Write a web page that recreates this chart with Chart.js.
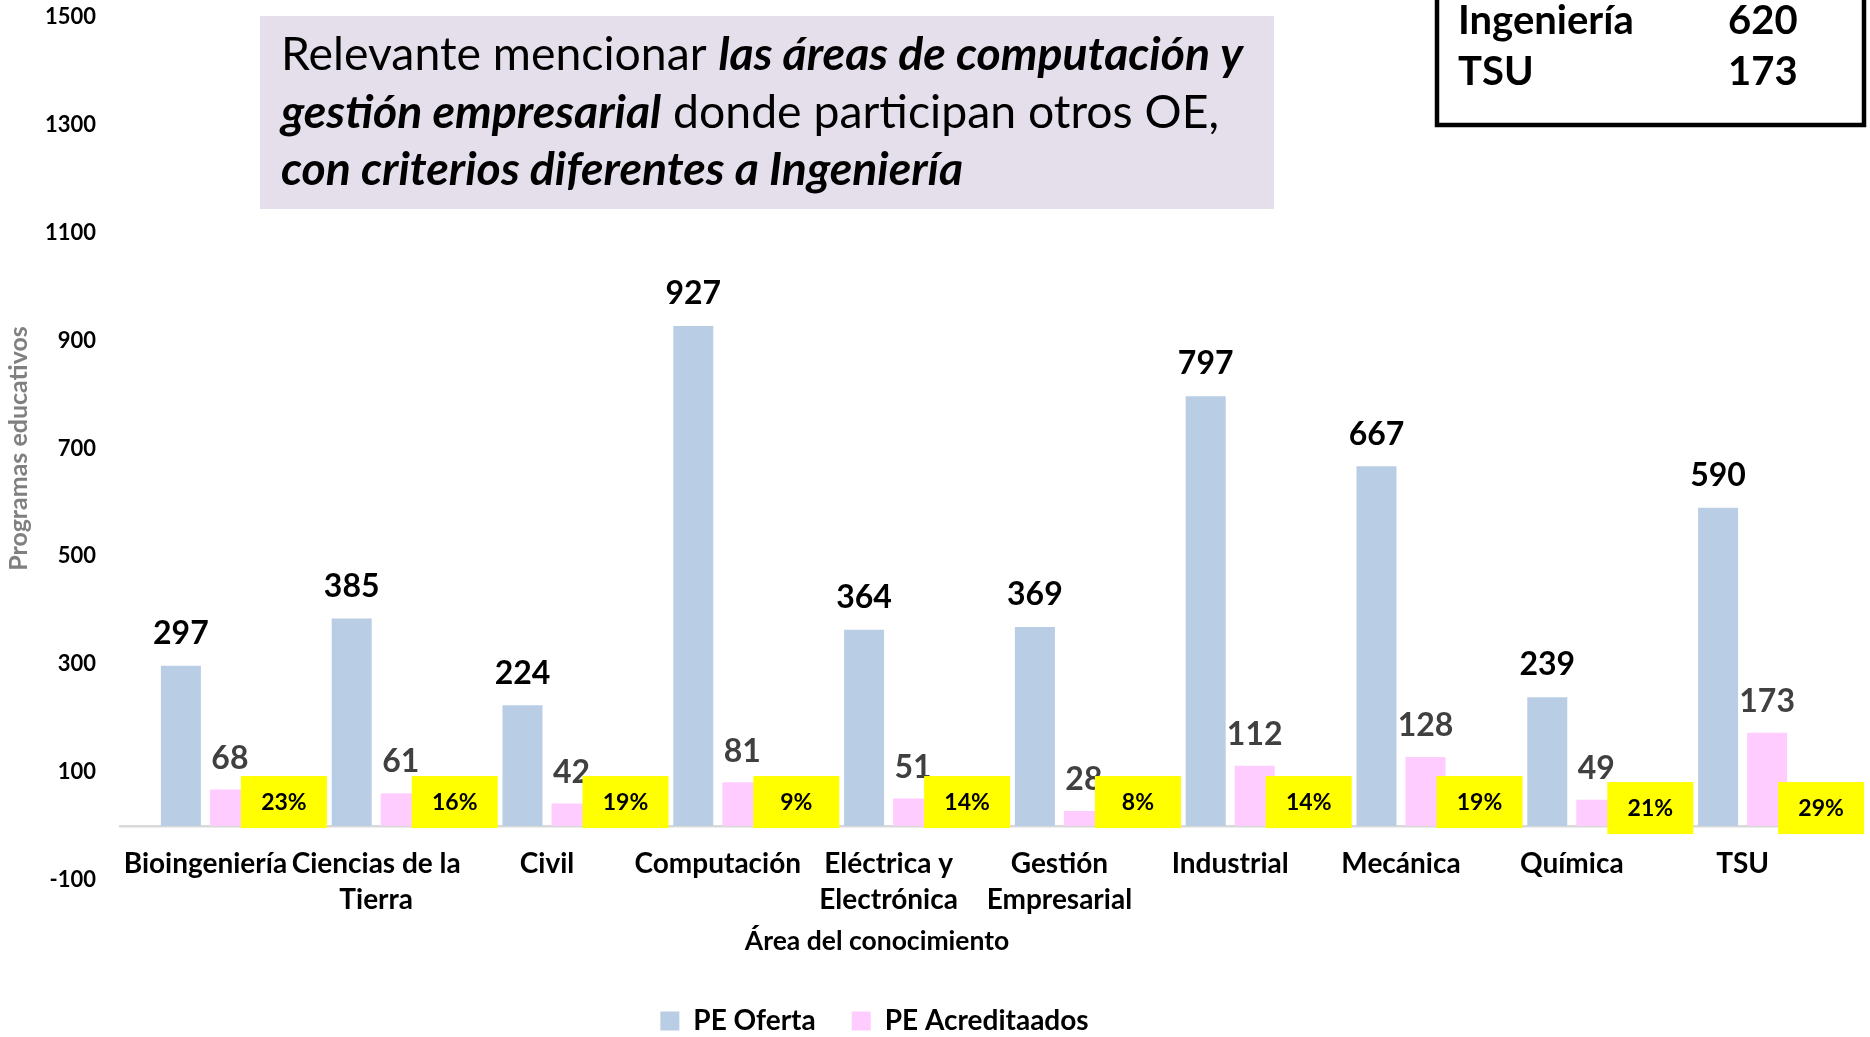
<!DOCTYPE html>
<html>
<head>
<meta charset="utf-8">
<script src="https://cdn.jsdelivr.net/npm/chart.js@4.4.1/dist/chart.umd.min.js"></script>
<style>
  html, body { margin: 0; padding: 0; background: #fff; }
</style>
</head>
<body>
<canvas id="chart" width="1870" height="1037"></canvas>
<script>
const areas = ['Bioingeniería', ['Ciencias de la', 'Tierra'], 'Civil', 'Computación', ['Eléctrica y', 'Electrónica'],
  ['Gestión', 'Empresarial'], 'Industrial', 'Mecánica', 'Química', 'TSU'];
const peOferta = [297, 385, 224, 927, 364, 369, 797, 667, 239, 590];
const peAcreditados = [68, 61, 42, 81, 51, 28, 112, 128, 49, 173];
const pctAcreditados = ['23%', '16%', '19%', '9%', '14%', '8%', '14%', '19%', '21%', '29%'];
const yTicks = [-100, 100, 300, 500, 700, 900, 1100, 1300, 1500];
const totals = [['Ingeniería', '620'], ['TSU', '173']];
const noteLines = [
  [['Relevante mencionar ', ''], ['las áreas de computación y', 'italic bold']],
  [['gestión empresarial', 'italic bold'], [' donde participan otros OE,', '']],
  [['con criterios diferentes a Ingeniería', 'italic bold']]
];

const FONT = 'Lato, "Open Sans", sans-serif';

function drawRuns(ctx, runs, x, y, size) {
  runs.forEach(([text, style]) => {
    ctx.font = `${style} ${size}px ${FONT}`;
    ctx.fillText(text, x, y);
    x += ctx.measureText(text).width;
  });
}

function runsWidth(ctx, runs, size) {
  let w = 0;
  runs.forEach(([text, style]) => {
    ctx.font = `${style} ${size}px ${FONT}`;
    w += ctx.measureText(text).width;
  });
  return w;
}

const overlay = {
  id: 'overlay',
  afterLayout(chart) {
    // the legend sits left of the plot centre in the original
    chart.legend.left -= 79;
  },
  afterDatasetsDraw(chart) {
    const ctx = chart.ctx;
    const y0 = chart.scales.y.getPixelForValue(0);
    const blue = chart.getDatasetMeta(0).data;
    const pink = chart.getDatasetMeta(1).data;
    ctx.save();
    ctx.textAlign = 'center';
    ctx.textBaseline = 'middle';
    ctx.font = `bold 32px ${FONT}`;
    blue.forEach((bar, i) => {
      ctx.fillStyle = '#000';
      ctx.fillText(String(peOferta[i]), bar.x, bar.y - 32);
    });
    pink.forEach((bar, i) => {
      ctx.fillStyle = '#404040';
      ctx.fillText(String(peAcreditados[i]), bar.x, bar.y - 31);
    });
    // yellow percentage tags next to the pink bars
    ctx.font = `bold 23px ${FONT}`;
    pink.forEach((bar, i) => {
      const drop = i >= 8 ? 6 : 0;
      const cx = bar.x + 54;
      ctx.fillStyle = '#ffff00';
      ctx.fillRect(cx - 43, y0 - 50 + drop, 86, 52);
      ctx.fillStyle = '#000';
      ctx.fillText(pctAcreditados[i], cx, y0 - 23 + drop);
    });
    ctx.restore();
  },
  afterDraw(chart) {
    const ctx = chart.ctx;
    ctx.save();

    // note box
    ctx.fillStyle = '#e5dfec';
    ctx.fillRect(260, 16, 1014, 193);
    ctx.fillStyle = '#000';
    ctx.textAlign = 'left';
    ctx.textBaseline = 'alphabetic';
    const size = 40 * 962 / runsWidth(ctx, noteLines[0], 40);
    noteLines.forEach((runs, i) => drawRuns(ctx, runs, 281, 70 + i * 57.5, size));

    // totals box
    ctx.strokeStyle = '#000';
    ctx.lineWidth = 4.5;
    ctx.strokeRect(1437, -10, 427, 135);
    ctx.font = `bold 40px ${FONT}`;
    totals.forEach(([name, val], i) => {
      ctx.fillText(name, 1458, 34 + i * 51);
      ctx.fillText(val, 1728, 34 + i * 51);
    });

    // x axis title
    ctx.textAlign = 'center';
    ctx.textBaseline = 'middle';
    ctx.font = `bold 26.5px ${FONT}`;
    ctx.fillText('Área del conocimiento', 877, 941);
    ctx.restore();
  }
};

new Chart(document.getElementById('chart'), {
  type: 'bar',
  data: {
    labels: areas,
    datasets: [
      { label: 'PE Oferta', data: peOferta, backgroundColor: '#b9cde5', borderWidth: 0 },
      { label: 'PE Acreditaados', data: peAcreditados, backgroundColor: '#ffccff', borderWidth: 0 }
    ]
  },
  options: {
    responsive: false,
    animation: false,
    devicePixelRatio: 1,
    categoryPercentage: 0.574,
    barPercentage: 0.816,
    layout: { padding: { top: 17, right: 42, bottom: -8, left: 0 } },
    scales: {
      x: {
        position: { y: 0 },
        offset: true,
        grid: { display: false, drawTicks: false },
        border: { color: '#d9d9d9', width: 2.5 },
        ticks: {
          color: '#000',
          font: { family: FONT, size: 28, weight: 'bold', lineHeight: 1.286 },
          padding: 20,
          autoSkip: false,
          maxRotation: 0
        }
      },
      y: {
        min: yTicks[0],
        max: yTicks[yTicks.length - 1],
        afterBuildTicks: s => { s.ticks = yTicks.map(v => ({ value: v })); },
        afterFit: s => {
          s.width = 120;
          s.paddingTop = 0;
          s.paddingBottom = 0;
        },
        grid: { display: false, drawTicks: false },
        border: { display: false },
        ticks: {
          color: '#000',
          font: { family: FONT, size: 22, weight: 'bold' },
          padding: 24,
          callback: v => String(v)
        },
        title: {
          display: true,
          text: 'Programas educativos',
          color: '#808080',
          font: { family: FONT, size: 25, weight: 'bold' },
          padding: { top: 4, bottom: 0 }
        }
      }
    },
    plugins: {
      legend: {
        position: 'bottom',
        title: { display: true, text: '', font: { size: 10, lineHeight: 1 }, padding: { top: 81, bottom: 0 } },
        labels: {
          color: '#000',
          font: { family: FONT, size: 28, weight: 'bold' },
          boxWidth: 19,
          boxHeight: 19,
          padding: 36
        }
      },
      tooltip: { enabled: false }
    }
  },
  plugins: [overlay]
});
</script>
</body>
</html>
